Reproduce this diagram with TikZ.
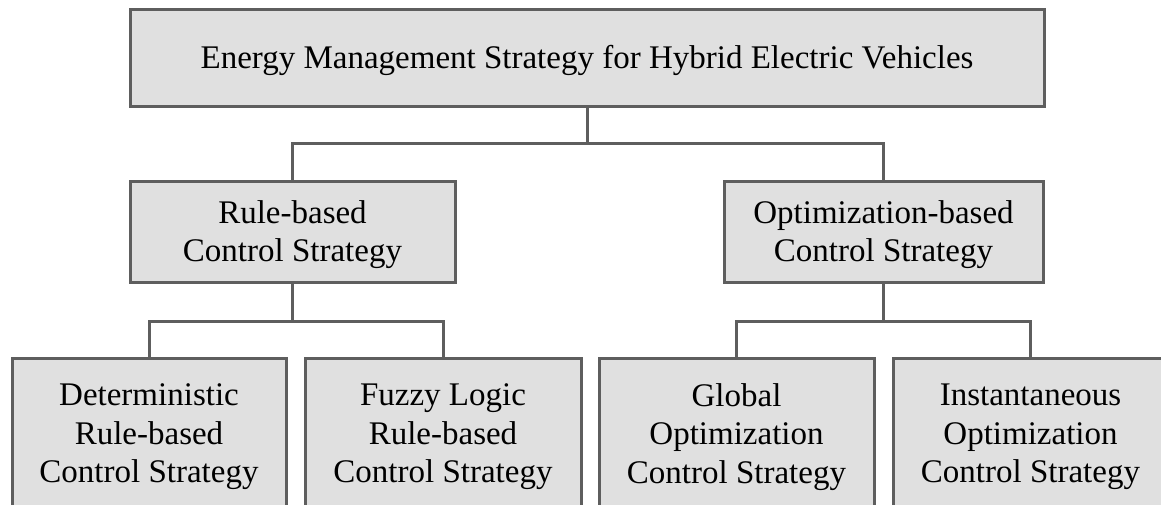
\documentclass[tikz,border=0pt]{standalone}
\usepackage{fontspec}
\setmainfont{Liberation Serif}
\definecolor{boxfill}{HTML}{E0E0E0}
\definecolor{boxline}{HTML}{5E5E5E}
\begin{document}
\begin{tikzpicture}[x=1pt,y=-1pt,
  box/.style={draw=boxline,fill=boxfill,line width=3pt,rectangle,inner sep=0pt},
  boxtext/.style={inner sep=0pt,align=center,yshift=-3pt,
    font=\fontsize{33}{38.5}\selectfont},
  conn/.style={draw=boxline,line width=3pt,line join=miter}]
\useasboundingbox (0,0) rectangle (1161,504);
\begin{scope}
\clip (0,0) rectangle (1161,504);
\node[box,minimum width=914pt,minimum height=97pt,
  label={[boxtext,name=ttop]center:Energy Management Strategy for Hybrid Electric Vehicles}] (top) at (587,57.5) {};
\node[box,minimum width=325pt,minimum height=101pt,
  label={[boxtext,name=tml]center:Rule-based\\Control Strategy}] (ml) at (292.5,231.5) {};
\node[box,minimum width=319pt,minimum height=101pt,
  label={[boxtext,name=tmr]center:Optimization-based\\Control Strategy}] (mr) at (883.5,231.5) {};
\node[box,minimum width=274pt,minimum height=152pt,
  label={[boxtext,name=tb1]center:Deterministic\\Rule-based\\Control Strategy}] (b1) at (149,434) {};
\node[box,minimum width=276pt,minimum height=152pt,
  label={[boxtext,name=tb2]center:Fuzzy Logic\\Rule-based\\Control Strategy}] (b2) at (443,434) {};
\node[box,minimum width=275pt,minimum height=152pt,
  label={[boxtext,name=tb3]center:Global\\Optimization\\Control Strategy}] (b3) at (736.5,434) {};
\node[box,minimum width=275pt,minimum height=152pt,
  label={[boxtext,name=tb4]center:Instantaneous\\Optimization\\Control Strategy}] (b4) at (1030.5,434) {};
\coordinate (j0) at (587,143);
\coordinate (j1) at (292.5,321);
\coordinate (j2) at (883.5,321);
\draw[conn] (top.south) -- (j0);
\draw[conn] (ml.north) |- (j0) -| (mr.north);
\draw[conn] (ml.south) -- (j1);
\draw[conn] (b1.north) |- (j1) -| (b2.north);
\draw[conn] (mr.south) -- (j2);
\draw[conn] (b3.north) |- (j2) -| (b4.north);
\end{scope}
\end{tikzpicture}
\end{document}
